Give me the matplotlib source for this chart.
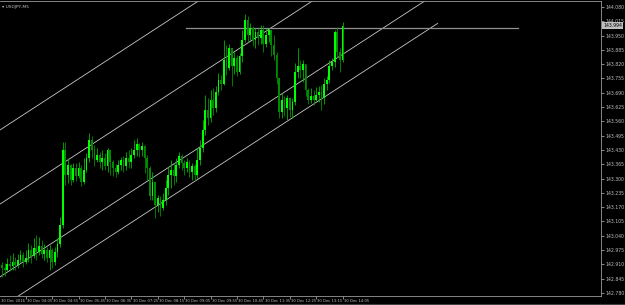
import matplotlib
matplotlib.use('Agg')
import matplotlib.pyplot as plt
import matplotlib.transforms as mtrans

# USDJPY M5, 30 Dec 2016 (bar 0 = 03:20)
first_open = 142.907
closes = [142.894, 142.884, 142.912, 142.903, 142.921, 142.907, 142.930, 142.953, 142.921, 142.939,
          142.975, 142.948, 142.984, 142.966, 142.994, 142.957, 142.975, 142.939, 142.975, 142.921,
          142.966, 143.003, 143.089, 143.430, 143.316, 143.362, 143.294, 143.348, 143.312, 143.348,
          143.285, 143.339, 143.394, 143.475, 143.430, 143.385, 143.407, 143.375, 143.394, 143.357,
          143.430, 143.375, 143.348, 143.330, 143.362, 143.385, 143.357, 143.394, 143.375, 143.407,
          143.430, 143.457, 143.430, 143.448, 143.394, 143.348, 143.221, 143.285, 143.180, 143.212,
          143.166, 143.203, 143.257, 143.316, 143.339, 143.312, 143.362, 143.403, 143.371, 143.348,
          143.375, 143.330, 143.357, 143.316, 143.385, 143.439, 143.521, 143.612, 143.575, 143.657,
          143.621, 143.694, 143.748, 143.730, 143.839, 143.803, 143.894, 143.812, 143.848, 143.785,
          143.857, 143.930, 144.021, 143.953, 143.985, 143.930, 143.966, 143.939, 143.975, 143.912,
          143.953, 143.975, 143.907, 143.862, 143.757, 143.603, 143.657, 143.621, 143.666, 143.612,
          143.648, 143.785, 143.812, 143.794, 143.821, 143.703, 143.657, 143.675, 143.657, 143.680,
          143.694, 143.666, 143.730, 143.748, 143.812, 143.830, 143.966, 143.875, 143.839, 143.994]
highs = [142.921, 142.916, 142.939, 142.953, 142.962, 142.943, 142.957, 142.975, 142.966, 142.975,
         143.007, 142.998, 143.030, 143.043, 143.034, 143.021, 143.003, 142.989, 142.998, 142.984,
         142.989, 143.030, 143.125, 143.466, 143.466, 143.394, 143.366, 143.371, 143.371, 143.375,
         143.362, 143.394, 143.416, 143.507, 143.494, 143.453, 143.439, 143.421, 143.430, 143.416,
         143.439, 143.430, 143.385, 143.366, 143.385, 143.398, 143.403, 143.421, 143.430, 143.439,
         143.475, 143.485, 143.462, 143.466, 143.453, 143.407, 143.357, 143.330, 143.280, 143.225,
         143.221, 143.235, 143.294, 143.353, 143.385, 143.371, 143.394, 143.421, 143.412, 143.385,
         143.394, 143.385, 143.371, 143.366, 143.439, 143.475, 143.566, 143.680, 143.666, 143.703,
         143.712, 143.721, 143.780, 143.771, 143.930, 143.907, 143.912, 143.885, 143.875, 143.862,
         143.871, 143.975, 144.048, 144.039, 144.007, 143.994, 143.985, 143.985, 143.998, 143.998,
         143.985, 143.985, 143.966, 143.953, 143.875, 143.757, 143.689, 143.675, 143.680, 143.671,
         143.666, 143.825, 143.894, 143.839, 143.839, 143.812, 143.712, 143.712, 143.703, 143.716,
         143.721, 143.725, 143.757, 143.766, 143.839, 143.848, 143.975, 143.989, 143.894, 144.012]
lows = [142.853, 142.857, 142.875, 142.880, 142.884, 142.884, 142.894, 142.921, 142.898, 142.912,
        142.921, 142.916, 142.939, 142.930, 142.953, 142.939, 142.930, 142.921, 142.884, 142.894,
        142.907, 142.943, 142.989, 143.075, 143.271, 143.280, 143.271, 143.285, 143.289, 143.303,
        143.266, 143.275, 143.330, 143.375, 143.394, 143.357, 143.375, 143.348, 143.339, 143.339,
        143.330, 143.316, 143.312, 143.307, 143.321, 143.339, 143.330, 143.339, 143.348, 143.348,
        143.394, 143.403, 143.398, 143.403, 143.325, 143.294, 143.203, 143.203, 143.121, 143.148,
        143.130, 143.157, 143.180, 143.225, 143.257, 143.271, 143.285, 143.348, 143.339, 143.316,
        143.330, 143.307, 143.294, 143.294, 143.303, 143.362, 143.421, 143.498, 143.544, 143.557,
        143.589, 143.603, 143.680, 143.703, 143.725, 143.771, 143.794, 143.721, 143.775, 143.766,
        143.775, 143.830, 143.921, 143.921, 143.930, 143.903, 143.894, 143.907, 143.912, 143.875,
        143.898, 143.921, 143.857, 143.839, 143.730, 143.575, 143.575, 143.585, 143.566, 143.580,
        143.575, 143.635, 143.757, 143.757, 143.739, 143.675, 143.639, 143.644, 143.635, 143.653,
        143.648, 143.612, 143.639, 143.703, 143.735, 143.794, 143.807, 143.853, 143.785, 143.830]
opens = [first_open] + closes[:-1]

price_ticks = [144.080, 144.015, 143.950, 143.885, 143.820, 143.755, 143.690, 143.625, 143.560,
               143.495, 143.430, 143.365, 143.300, 143.235, 143.170, 143.105, 143.040, 142.975,
               142.910, 142.845, 142.780]
time_bars = [9, 19, 29, 39, 49, 59, 69, 79, 89, 99, 109, 119, 129]
time_labels = ['30 Dec 04:05', '30 Dec 04:55', '30 Dec 05:45', '30 Dec 06:35', '30 Dec 07:25',
               '30 Dec 08:15', '30 Dec 09:05', '30 Dec 09:55', '30 Dec 10:45', '30 Dec 11:35',
               '30 Dec 12:25', '30 Dec 13:15', '30 Dec 14:05']

# channel lines: price at bar -1 and bar 165
chan_bars = [-1, 165]
chan_a = [143.519, 144.814]
chan_b = [143.182, 144.477]
chan_c = [142.851, 144.145]
chan_d = [142.710, 144.005]
hline_price = 143.985
hline_bars = [69.7, 195.5]

txt_col = '#c0c0c0'
frame_col = '#9a9a9a'

fig = plt.figure(figsize=(6.25, 3.05), dpi=100, facecolor='black')
ax = fig.add_axes([0, 9 / 305, 601 / 625, 295 / 305])
ax.set_facecolor('black')
ax.set_xlim(-0.76, 226.9)
ax.set_ylim(142.766, 144.107)

# channels
for ch in (chan_a, chan_b, chan_c, chan_d):
    ax.plot(chan_bars, ch, color='#c8c8c8', lw=0.6, zorder=1)
ax.plot(hline_bars, [hline_price, hline_price], color='#909090', lw=0.9, zorder=1)

# candles
for i in range(len(closes)):
    o, c, h, l = opens[i], closes[i], highs[i], lows[i]
    bull = c >= o
    body_col = '#00ff00' if bull else '#008c00'
    wick_col = '#00b400' if bull else '#008c00'
    top = max(h, o, c)
    bot = min(l, o, c)
    ax.vlines(i, bot, top, color=wick_col, lw=0.6, zorder=2)
    height = abs(c - o)
    if height < 0.002:
        height = 0.002
    ax.bar(i, height, bottom=min(o, c), width=0.66, color=body_col, lw=0, zorder=3)

# frame
ax.spines['left'].set_visible(False)
for side in ('right', 'bottom', 'top'):
    ax.spines[side].set_color(frame_col)
    ax.spines[side].set_linewidth(0.6)

ax.yaxis.tick_right()
ax.set_yticks(price_ticks)
ax.set_yticklabels(['%.3f' % p for p in price_ticks])
ax.tick_params(axis='y', colors=txt_col, length=2, width=0.5, labelsize=3.3, pad=1)

ax.set_xticks(time_bars)
ax.set_xticklabels([])
ax.tick_params(axis='x', colors=txt_col, length=2, width=0.5)
xt = mtrans.blended_transform_factory(ax.transData, ax.transAxes)
ax.text(-0.4, -0.01, '30 Dec 2016', transform=xt, ha='left', va='top',
        fontsize=2.7, color=txt_col)
for b, lab in zip(time_bars, time_labels):
    ax.text(b + 0.5, -0.01, lab, transform=xt, ha='left', va='top',
            fontsize=2.7, color=txt_col)

# current price box
yt = mtrans.blended_transform_factory(ax.transAxes, ax.transData)
ax.text(1.004, closes[-1], '%.3f' % closes[-1], transform=yt, ha='left', va='center',
        fontsize=3.3, color='black',
        bbox=dict(boxstyle='square,pad=0.2', fc='#c0c0c0', ec='none'))

# symbol caption
ax.text(0.004, 0.988, '\u25be USDJPY,M5', transform=ax.transAxes, ha='left', va='top',
        fontsize=3.2, color=txt_col)

fig.add_artist(plt.Line2D([0, 1], [1 / 305, 1 / 305], color='#404040', lw=0.8))

fig.savefig('out.png', dpi=100, facecolor='black')
